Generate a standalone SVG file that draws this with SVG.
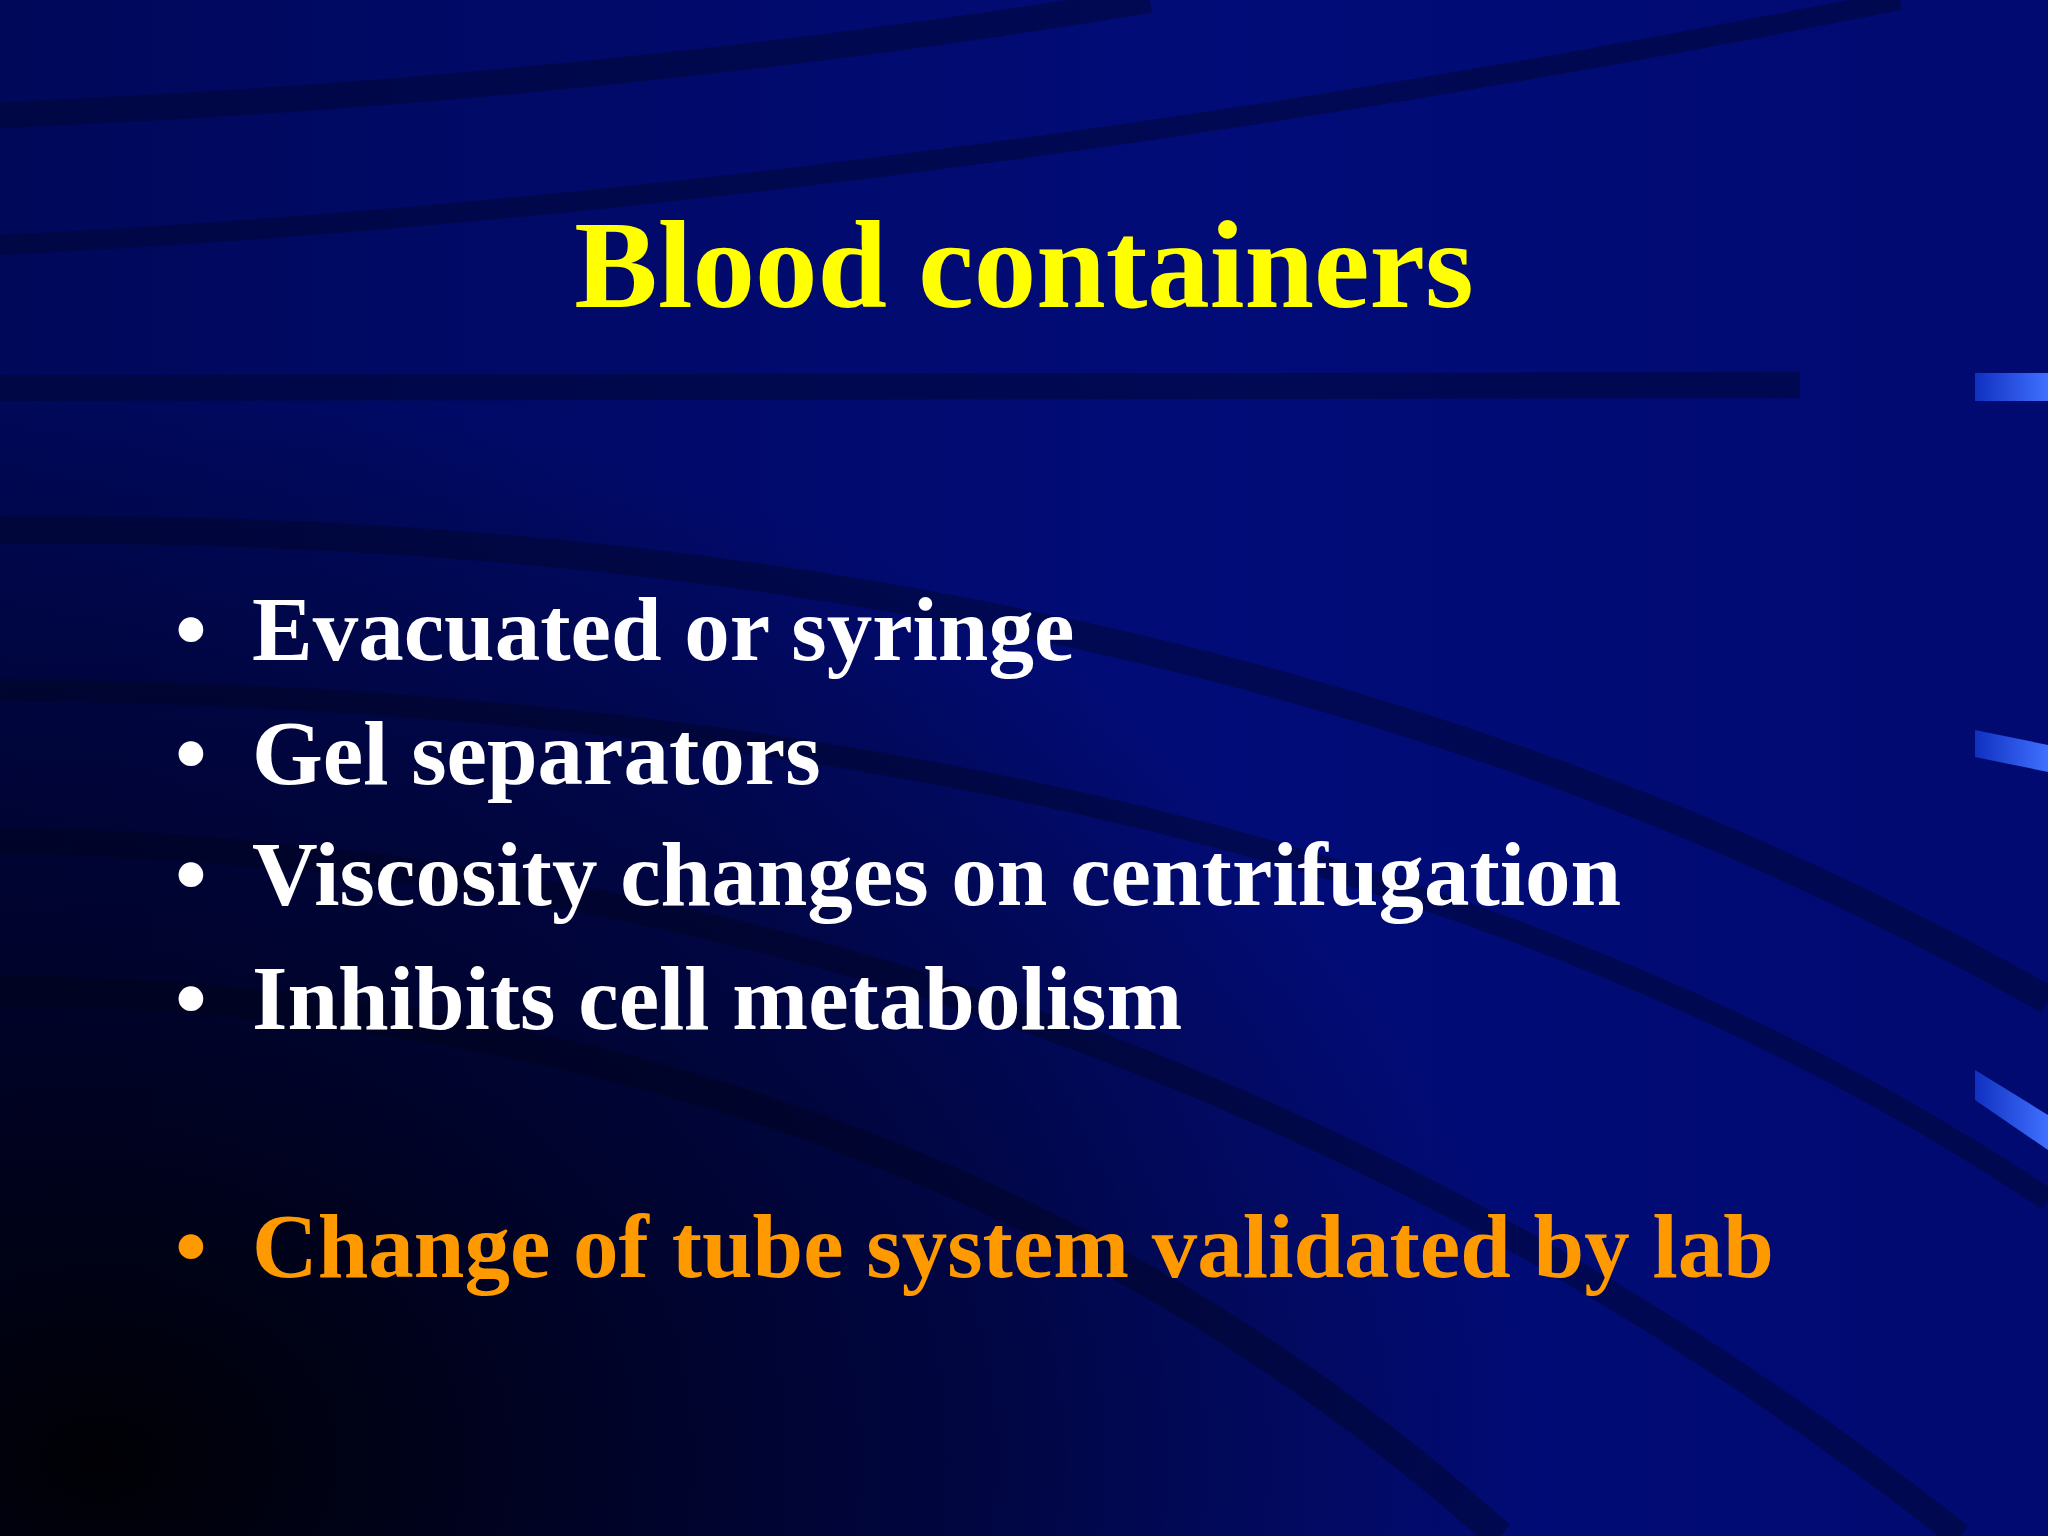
<svg xmlns="http://www.w3.org/2000/svg" width="2048" height="1536" viewBox="0 0 2048 1536">
<defs>
<linearGradient id="bg" x1="0" y1="0" x2="1" y2="0">
<stop offset="0" stop-color="#00085a"/><stop offset="0.6" stop-color="#020c78"/><stop offset="1" stop-color="#000a70"/>
</linearGradient>
<radialGradient id="vig" cx="0.05" cy="0.95" r="0.7">
<stop offset="0" stop-color="#000000" stop-opacity="0.95"/><stop offset="0.6" stop-color="#000010" stop-opacity="0.5"/><stop offset="1" stop-color="#000" stop-opacity="0"/>
</radialGradient>
<linearGradient id="tab" x1="0" y1="0" x2="1" y2="0"><stop offset="0" stop-color="#1030c0"/><stop offset="1" stop-color="#4070ff"/></linearGradient>
<style>
.band{fill:none;stroke:#000530;stroke-opacity:0.5}
.t{font-family:"Liberation Serif","Times New Roman",serif;font-weight:bold}
.w{fill:#ffffff;font-size:91px}
</style>
</defs>
<rect width="2048" height="1536" fill="url(#bg)"/>
<path class="band" d="M0 115 Q600 90 1150 0" stroke-width="26"/>
<path class="band" d="M0 245 Q900 200 1900 0" stroke-width="20"/>
<path class="band" d="M0 388 L1800 385" stroke-width="26"/>
<path class="band" d="M0 530 Q1200 520 2048 1000" stroke-width="28"/>
<path class="band" d="M0 690 Q1300 700 2048 1200" stroke-width="22"/>
<path class="band" d="M0 840 Q1100 860 1960 1536" stroke-width="26"/>
<path class="band" d="M0 990 Q900 1000 1500 1536" stroke-width="30"/>
<rect width="2048" height="1536" fill="url(#vig)"/>
<rect x="1975" y="373" width="73" height="28" fill="url(#tab)"/>
<path d="M1975 730 L2048 745 L2048 772 L1975 757 Z" fill="url(#tab)"/>
<path d="M1975 1070 L2048 1115 L2048 1150 L1975 1100 Z" fill="url(#tab)"/>
<text class="t" x="1024" y="307" text-anchor="middle" font-size="125" fill="#ffff00">Blood containers</text>
<g class="t w">
<text x="175" y="660">•</text><text x="252" y="660">Evacuated or syringe</text>
<text x="175" y="784">•</text><text x="252" y="784">Gel separators</text>
<text x="175" y="905">•</text><text x="252" y="905">Viscosity changes on centrifugation</text>
<text x="175" y="1029">•</text><text x="252" y="1029">Inhibits cell metabolism</text>
</g>
<g class="t" font-size="91" fill="#ff9900">
<text x="175" y="1277">•</text><text x="252" y="1277">Change of tube system validated by lab</text>
</g>
</svg>
